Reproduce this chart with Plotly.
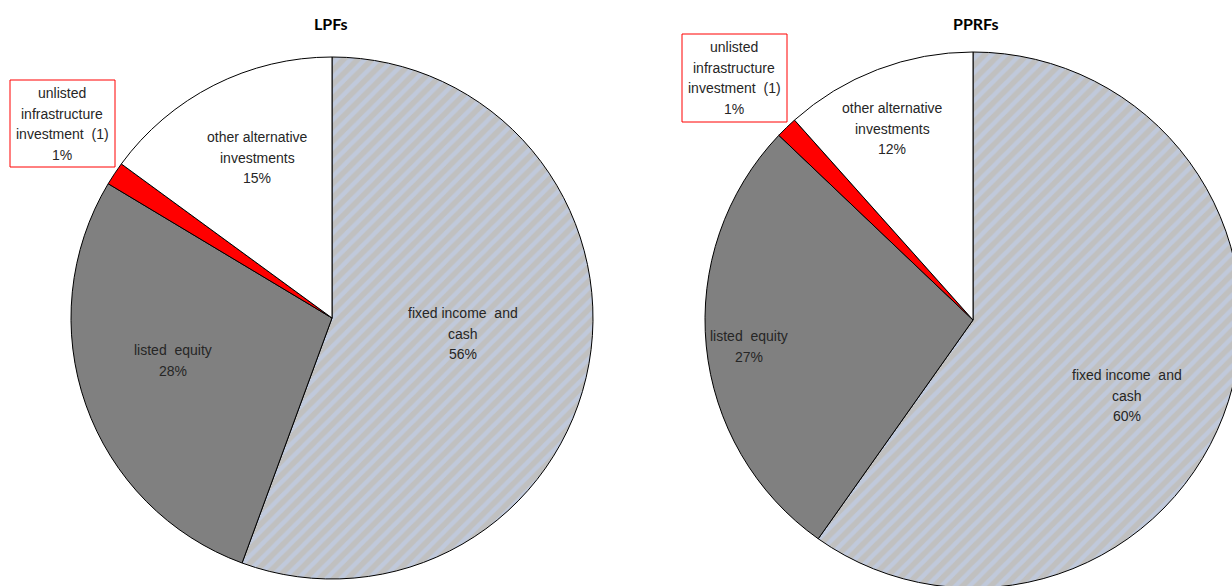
import plotly.graph_objects as go

# ---------------- data ----------------
categories = ["fixed income and cash", "listed equity",
              "unlisted infrastructure investment (1)", "other alternative investments"]
label_lines = [["fixed income\u00a0 and", "cash"],
               ["listed\u00a0 equity"],
               ["unlisted", "infrastructure", "investment\u00a0 (1)"],
               ["other alternative", "investments"]]
lpf_values = [55.6, 28.0, 1.45, 14.95]
pprf_values = [59.8, 27.3, 1.3, 11.6]
titles = ["LPFs", "PPRFs"]

slice_colors = ["#C0C0C0", "#808080", "#FF0000", "#FFFFFF"]
pattern_shapes = ["/", "", "", ""]

# ---------------- layout helpers (pixels) ----------------
W, H = 1250, 600


def px(x, y):
    return x / W, 1 - y / H


pies = [
    dict(values=lpf_values, cx=332, cy=318, r=261,
         label_pos=[(463, 313), (173, 350), (62, 93), (257, 137)],
         box=(10, 80, 115, 167), title_pos=(331, 23)),
    dict(values=pprf_values, cx=973, cy=320, r=268,
         label_pos=[(1127, 375), (749, 336), (734, 47), (892, 108)],
         box=(682, 34, 787, 122), title_pos=(975, 23)),
]

fig = go.Figure()
annotations = []
shapes = []
LINE = 20.7
for p, title in zip(pies, titles):
    x0, y1 = px(p["cx"] - p["r"], p["cy"] - p["r"])
    x1, y0 = px(p["cx"] + p["r"], p["cy"] + p["r"])
    fig.add_trace(go.Pie(
        labels=categories, values=p["values"], sort=False,
        direction="clockwise", rotation=0, textinfo="none",
        hoverinfo="label+percent",
        marker=dict(colors=slice_colors,
                    line=dict(color="#000000", width=1),
                    pattern=dict(shape=pattern_shapes, fgcolor="#C0D2F6",
                                 size=10, solidity=0.45, fillmode="overlay")),
        domain=dict(x=[x0, x1], y=[y0, y1]),
        showlegend=False,
    ))
    total = sum(p["values"])
    for lines, v, (lx, ly) in zip(label_lines, p["values"], p["label_pos"]):
        all_lines = lines + [f"{round(v / total * 100)}%"]
        for i, t in enumerate(all_lines):
            ax, ay = px(lx, ly + i * LINE)
            annotations.append(dict(
                x=ax, y=ay, xref="paper", yref="paper", text=t, showarrow=False,
                xanchor="center", yanchor="middle",
                font=dict(family="Liberation Sans, Arial", size=14, color="#262626")))
    bx0, by1 = px(p["box"][0], p["box"][1])
    bx1, by0 = px(p["box"][2], p["box"][3])
    shapes.append(dict(type="rect", xref="paper", yref="paper",
                       x0=bx0, x1=bx1, y0=by0, y1=by1,
                       line=dict(color="#FF0000", width=1), fillcolor="rgba(0,0,0,0)"))
    tx, ty = px(*p["title_pos"])
    annotations.append(dict(x=tx, y=ty, xref="paper", yref="paper", text=f"<b>{title}</b>",
                            showarrow=False, xanchor="center", yanchor="middle",
                            font=dict(family="Lato, Arial", size=16, color="#000000")))

fig.update_layout(
    width=W, height=H, margin=dict(l=0, r=0, t=0, b=0),
    paper_bgcolor="white", plot_bgcolor="white",
    annotations=annotations, shapes=shapes,
)

fig.write_html("out.html", config={"displayModeBar": False},
               post_script="document.body.style.margin='0';document.body.style.overflow='hidden';")
